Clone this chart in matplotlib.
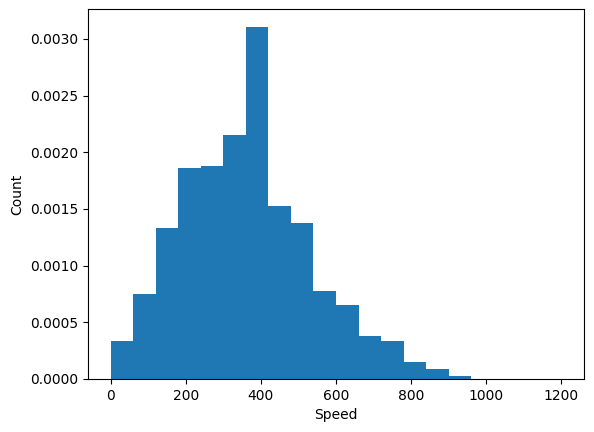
import numpy as np
import matplotlib
matplotlib.use("Agg")
from matplotlib import pyplot as plt

# bin edges: 20 bins of width 60 from 0 to 1200
bin_edges = np.linspace(0, 1200, 21)
# density heights
density = [0.000335, 0.00075, 0.001332, 0.001862, 0.00188, 0.002153,
           0.003106, 0.001526, 0.001376, 0.000776, 0.000653, 0.000379,
           0.000336, 0.00015, 0.000088, 0.000027, 0.0, 0.0, 0.0, 0.0]

fig, ax = plt.subplots(figsize=(5.94, 4.32), dpi=100)
fig.subplots_adjust(left=88/594, right=584/594, top=1-9.3/432, bottom=1-379/432)

ax.hist(bin_edges[:-1], bins=bin_edges, weights=density)
ax.set_xlabel("Speed")
ax.set_ylabel("Count")

plt.savefig("out.png")
